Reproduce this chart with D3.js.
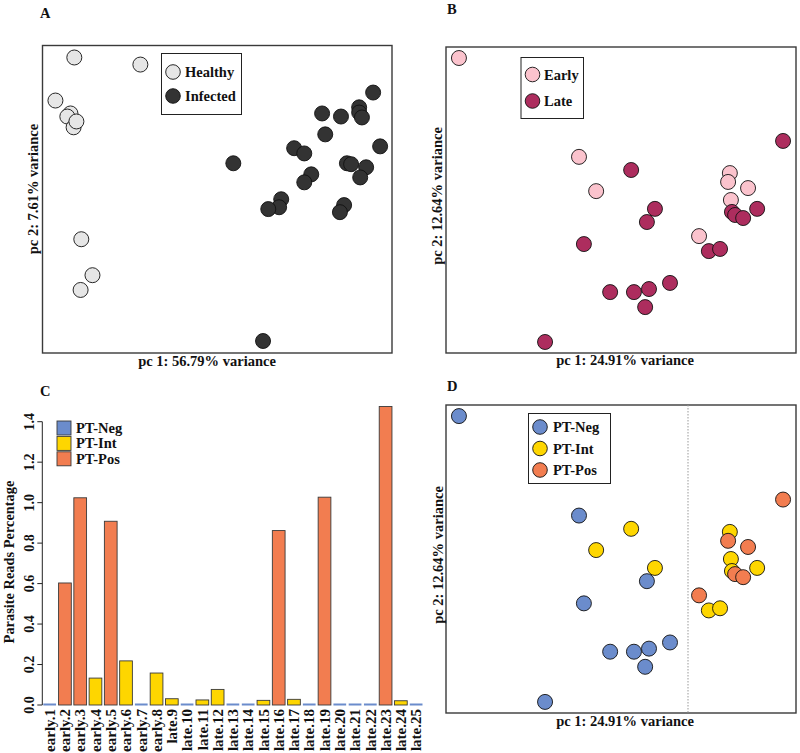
<!DOCTYPE html>
<html><head><meta charset="utf-8">
<script src="https://cdn.jsdelivr.net/npm/d3@7"></script>
<style>body{margin:0;background:#fff}svg{display:block}text{font-family:"Liberation Serif","Times New Roman",serif;font-weight:bold;fill:#111}</style>
</head><body><svg id="c" width="800" height="753"></svg>
<script>
// ---- Panel A data (PCA scores, relative units) ----
const healthyPC1 = [9.1, 28.0, 3.7, 8.0, 7.1, 8.9, 9.7, 11.1, 14.3, 10.9];
const healthyPC2 = [96.1, 93.8, 82.1, 77.9, 76.9, 73.4, 75.3, 37.0, 25.3, 20.5];
const infectedPC1 = [94.6, 80.0, 85.4, 90.6, 90.6, 91.4, 80.9, 72.0, 74.9, 96.6, 54.6, 87.1, 88.3, 92.6, 90.9, 76.9, 74.9, 68.3, 67.7, 64.6, 86.3, 85.1, 63.1];
const infectedPC2 = [84.7, 77.9, 76.9, 79.9, 78.2, 76.6, 71.1, 66.6, 64.9, 67.2, 61.7, 61.7, 61.4, 60.4, 57.1, 58.1, 55.5, 50.0, 47.4, 46.8, 48.1, 45.8, 3.9];
const labelsA = ["Healthy", "Infected"];

// ---- Panels B & D data (infected samples PCA) ----
const samplePC1 = [3.7, 38.0, 42.9, 81.1, 80.6, 86.3, 81.4, 72.3, 96.3, 52.9, 59.7, 57.4, 39.4, 81.7, 82.6, 84.9, 88.9, 75.1, 78.3, 46.9, 53.7, 58.0, 64.0, 56.9, 28.3];
const samplePC2 = [96.4, 64.1, 52.9, 58.8, 55.9, 53.9, 50.0, 38.2, 69.3, 59.8, 47.1, 42.8, 35.6, 46.1, 45.1, 44.1, 47.1, 33.3, 34.0, 19.9, 19.9, 20.9, 22.9, 15.0, 3.6];
const sampleStage = ["Early","Early","Early","Early","Early","Early","Early","Early","Late","Late","Late","Late","Late","Late","Late","Late","Late","Late","Late","Late","Late","Late","Late","Late","Late"];
const samplePT = ["PT-Neg","PT-Neg","PT-Int","PT-Int","PT-Pos","PT-Pos","PT-Int","PT-Pos","PT-Pos","PT-Int","PT-Int","PT-Neg","PT-Neg","PT-Int","PT-Pos","PT-Pos","PT-Int","PT-Int","PT-Int","PT-Neg","PT-Neg","PT-Neg","PT-Neg","PT-Neg","PT-Neg"];
const stages = ["Early", "Late"];
const ptGroups = ["PT-Neg", "PT-Int", "PT-Pos"];

// ---- Panel C data ----
const barSamples = ["early.1","early.2","early.3","early.4","early.5","early.6","early.7","early.8","late.9","late.10","late.11","late.12","late.13","late.14","late.15","late.16","late.17","late.18","late.19","late.20","late.21","late.22","late.23","late.24","late.25"];
const parasitePct = [0.004, 0.603, 1.024, 0.133, 0.908, 0.218, 0.007, 0.158, 0.031, 0.004, 0.025, 0.077, 0.007, 0.004, 0.023, 0.862, 0.028, 0.004, 1.027, 0.004, 0.004, 0.004, 1.475, 0.021, 0.004];
const barPT = ["PT-Neg","PT-Pos","PT-Pos","PT-Int","PT-Pos","PT-Int","PT-Neg","PT-Int","PT-Int","PT-Neg","PT-Int","PT-Int","PT-Neg","PT-Neg","PT-Int","PT-Pos","PT-Int","PT-Neg","PT-Pos","PT-Neg","PT-Neg","PT-Neg","PT-Pos","PT-Int","PT-Neg"];
const yTicksC = [0, 0.2, 0.4, 0.6, 0.8, 1.0, 1.2, 1.4];

const colA = d3.scaleOrdinal().domain(labelsA).range(["#e6e6e6", "#333333"]);
const colStage = d3.scaleOrdinal().domain(stages).range(["#fbc3cd", "#ad2d5e"]);
const colPT = d3.scaleOrdinal().domain(ptGroups).range(["#6b8ccc", "#fed600", "#f27d50"]);

const svg = d3.select("#c");
const R = 7.5;

function panelFrame(box) {
  svg.append("rect").attr("x", box.x0).attr("y", box.y0)
    .attr("width", box.x1 - box.x0).attr("height", box.y1 - box.y0)
    .attr("fill", "none").attr("stroke", "#3a3a3a").attr("stroke-width", 1.4);
}
function label(txt, x, y, size, opts) {
  const t = svg.append("text").attr("x", x).attr("y", y).attr("font-size", size).text(txt);
  if (opts && opts.anchor) t.attr("text-anchor", opts.anchor);
  return t;
}
function vlabel(txt, x, y, size) {
  svg.append("text").attr("transform", `translate(${x},${y}) rotate(-90)`)
    .attr("text-anchor", "middle").attr("font-size", size).text(txt);
}
function legend(box, items, colorFn, cx, ys, tx) {
  svg.append("rect").attr("x", box.x0).attr("y", box.y0)
    .attr("width", box.x1 - box.x0).attr("height", box.y1 - box.y0)
    .attr("fill", "#fff").attr("stroke", "#222").attr("stroke-width", 1);
  items.forEach((it, i) => {
    svg.append("circle").attr("cx", cx).attr("cy", ys[i]).attr("r", 7.3)
      .attr("fill", colorFn(it)).attr("stroke", "#111").attr("stroke-width", 0.9);
    svg.append("text").attr("x", tx).attr("y", ys[i] + 5).attr("font-size", 14.5).text(it);
  });
}

// ================= Panel A =================
{
  const box = {x0: 42.5, x1: 392, y0: 45.5, y1: 353};
  const x = d3.scaleLinear().domain([0, 100]).range([box.x0, box.x1]);
  const y = d3.scaleLinear().domain([0, 100]).range([box.y1, box.y0]);
  panelFrame(box);
  const ptsH = healthyPC1.map((v, i) => ({x: v, y: healthyPC2[i], g: "Healthy"}));
  const ptsI = infectedPC1.map((v, i) => ({x: v, y: infectedPC2[i], g: "Infected"}));
  svg.append("g").selectAll("circle").data(ptsH.concat(ptsI)).join("circle")
    .attr("cx", d => x(d.x)).attr("cy", d => y(d.y)).attr("r", R)
    .attr("fill", d => colA(d.g)).attr("stroke", "#111").attr("stroke-width", 0.9);
  legend({x0: 161.5, x1: 241.5, y0: 53.5, y1: 114.5}, labelsA, colA, 173, [72, 96], 185);
  label("A", 40, 18, 14.5);
  label("pc 1: 56.79% variance", 207, 366, 14.5, {anchor: "middle"});
  vlabel("pc 2: 7.61% variance", 37.5, 189, 14.5);
}

// ================= Panel B =================
{
  const box = {x0: 446, x1: 796, y0: 47, y1: 353};
  const x = d3.scaleLinear().domain([0, 100]).range([box.x0, box.x1]);
  const y = d3.scaleLinear().domain([0, 100]).range([box.y1, box.y0]);
  panelFrame(box);
  const pts = samplePC1.map((v, i) => ({x: v, y: samplePC2[i], g: sampleStage[i]}));
  svg.append("g").selectAll("circle").data(pts).join("circle")
    .attr("cx", d => x(d.x)).attr("cy", d => y(d.y)).attr("r", R)
    .attr("fill", d => colStage(d.g)).attr("stroke", "#111").attr("stroke-width", 0.9);
  legend({x0: 521, x1: 583.5, y0: 57.5, y1: 118.5}, stages, colStage, 532.5, [74.5, 101], 544);
  label("B", 447, 14, 14.5);
  label("pc 1: 24.91% variance", 625, 365, 14.5, {anchor: "middle"});
  vlabel("pc 2: 12.64% variance", 441.5, 196, 14.5);
}

// ================= Panel C =================
{
  const x = d3.scaleBand().domain(barSamples).range([40.8, 425]).paddingInner(1 / 6).paddingOuter(0.164);
  const y = d3.scaleLinear().domain([0, 1.4]).range([705, 421.7]);
  const data = barSamples.map((s, i) => ({s, v: parasitePct[i], g: barPT[i]}));
  svg.append("g").selectAll("rect").data(data).join("rect")
    .attr("x", d => x(d.s)).attr("width", x.bandwidth())
    .attr("y", d => d.g === "PT-Neg" ? y(0) - 1.5 : y(d.v))
    .attr("height", d => d.g === "PT-Neg" ? 2 : y(0) - y(d.v))
    .attr("fill", d => colPT(d.g))
    .attr("stroke", d => d.g === "PT-Neg" ? "none" : "#3a3a3a")
    .attr("stroke-width", 0.9);
  // y axis (R style)
  const ax = 42.3;
  svg.append("line").attr("x1", ax).attr("x2", ax).attr("y1", y(0)).attr("y2", y(1.4))
    .attr("stroke", "#222").attr("stroke-width", 1);
  yTicksC.forEach(t => {
    svg.append("line").attr("x1", ax - 5).attr("x2", ax).attr("y1", y(t)).attr("y2", y(t))
      .attr("stroke", "#222").attr("stroke-width", 1);
    svg.append("text").attr("transform", `translate(34,${y(t)}) rotate(-90)`)
      .attr("text-anchor", "middle").attr("font-size", 14).text(t.toFixed(1));
  });
  // x labels
  barSamples.forEach(s => {
    svg.append("text").attr("transform", `translate(${x(s) + x.bandwidth() / 2},709) rotate(-90)`)
      .attr("text-anchor", "end").attr("dy", "0.35em").attr("font-size", 15).text(s);
  });
  vlabel("Parasite Reads Percentage", 13.5, 562, 14.4);
  // legend
  ptGroups.forEach((g, i) => {
    svg.append("rect").attr("x", 57).attr("y", 421 + i * 15.4).attr("width", 14).attr("height", 14)
      .attr("fill", colPT(g)).attr("stroke", "#3a3a3a").attr("stroke-width", 0.9);
    svg.append("text").attr("x", 76).attr("y", 433 + i * 15.4).attr("font-size", 14.5).text(g);
  });
  label("C", 40, 396, 14.5);
}

// ================= Panel D =================
{
  const box = {x0: 446, x1: 796, y0: 405, y1: 713};
  const x = d3.scaleLinear().domain([0, 100]).range([box.x0, box.x1]);
  const y = d3.scaleLinear().domain([0, 100]).range([box.y1, box.y0]);
  panelFrame(box);
  svg.append("line").attr("x1", 688).attr("x2", 688).attr("y1", box.y0).attr("y2", box.y1)
    .attr("stroke", "#999").attr("stroke-width", 1).attr("stroke-dasharray", "1.5,1.5");
  const pts = samplePC1.map((v, i) => ({x: v, y: samplePC2[i], g: samplePT[i]}));
  svg.append("g").selectAll("circle").data(pts).join("circle")
    .attr("cx", d => x(d.x)).attr("cy", d => y(d.y)).attr("r", R)
    .attr("fill", d => colPT(d.g)).attr("stroke", "#111").attr("stroke-width", 0.9);
  legend({x0: 528.5, x1: 610.5, y0: 413.5, y1: 483.5}, ptGroups, colPT, 540, [427, 448.5, 470], 553);
  label("D", 447, 391, 14.5);
  label("pc 1: 24.91% variance", 625, 726, 14.5, {anchor: "middle"});
  vlabel("pc 2: 12.64% variance", 442.5, 555, 14.5);
}
</script></body></html>
